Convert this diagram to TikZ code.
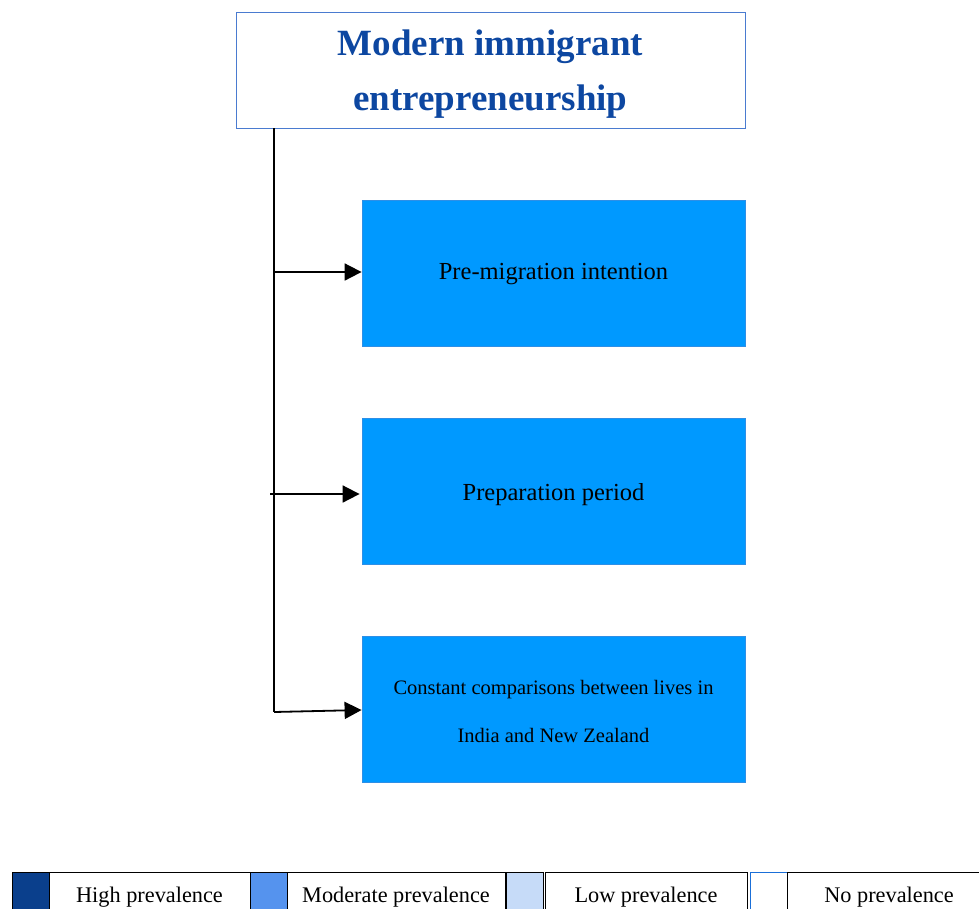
\documentclass[tikz,border=0pt]{standalone}
\usepackage{fontspec}
\setmainfont{Liberation Serif}
\usetikzlibrary{arrows.meta}

\definecolor{headtext}{HTML}{0D47A1}
\definecolor{headline}{HTML}{4A7BD0}
\definecolor{boxfill}{HTML}{0099FF}
\definecolor{boxline}{HTML}{2E8FE6}
\definecolor{highc}{HTML}{0A3F8C}
\definecolor{modc}{HTML}{5593EE}
\definecolor{lowc}{HTML}{C6DBF8}
\definecolor{nonec}{HTML}{1A6FD8}

\tikzset{
  headbox/.style={draw=headline, line width=1pt, fill=white,
    minimum width=509pt, minimum height=116pt, inner sep=0pt},
  headlabel/.style={align=center, text=headtext, inner sep=0pt,
    font=\fontsize{37}{55}\selectfont\bfseries},
  themebox/.style={draw=boxline, line width=0.8pt, fill=boxfill,
    minimum width=383pt, minimum height=146pt, inner sep=0pt},
  themelabel/.style={align=center, inner sep=0pt,
    font=\fontsize{24.5}{30}\selectfont},
  wire/.style={line width=1.8pt, black},
  tip/.style={-{Triangle[length=17pt,width=17pt]}},
  swatch/.style={draw=black, line width=0.8pt, anchor=north west,
    minimum width=37pt, minimum height=47pt, inner sep=0pt},
  keycell/.style={draw=black, line width=0.8pt, fill=white,
    minimum height=47pt, inner sep=0pt},
  keytext/.style={inner sep=0pt, font=\fontsize{22.3}{26}\selectfont},
}

\begin{document}
\begin{tikzpicture}[x=1pt,y=-1pt]
  \clip (0,0) rectangle (979,908);
  \fill[white] (0,0) rectangle (979,908);

  % heading
  \node[headbox] (head) at (490.5,70) {};
  \node[headlabel] (headtxt) at ([yshift=-4.5pt]head.center)
    {Modern immigrant\\entrepreneurship};

  % the three themes
  \node[themebox] (pre)  at (553.5,273) {};
  \node[themelabel] (pretxt) at ([yshift=-1.5pt]pre.center) {Pre-migration intention};
  \node[themebox] (prep) at (553.5,491) {};
  \node[themelabel] (preptxt) at ([yshift=-4pt]prep.center) {Preparation period};
  \node[themebox] (cmp) at (553.5,709) {};
  \node[themelabel, font=\fontsize{20.5}{48}\selectfont] (cmptxt)
    at ([yshift=-2pt]cmp.center)
    {Constant comparisons between lives in\\India and New Zealand};

  % trunk and branches
  \coordinate (top) at (274,128);
  \coordinate (elbow) at (274,712);
  \coordinate (mid) at (270,494);
  \draw[wire] (top) -- (elbow);
  \draw[wire,tip] (top |- 0,272) -- (pre.west |- 0,272);
  \draw[wire,tip] (mid) -- ([xshift=-2pt]prep.west |- mid);
  \draw[wire,tip] (elbow) -- ([yshift=-1pt]cmp.west);

  % legend
  \node[swatch, fill=highc] (sw1) at (12,872) {};
  \node[keycell, minimum width=201pt] (k1) at (149.5,895.5) {};
  \node[keytext] (k1txt) at ([yshift=-2pt]k1.center) {High prevalence};
  \node[swatch, fill=modc] (sw2) at (250,872) {};
  \node[keycell, minimum width=218pt] (k2) at (396,895.5) {};
  \node[keytext] (k2txt) at ([yshift=-2pt]k2.center) {Moderate prevalence};
  \node[swatch, fill=lowc] (sw3) at (505.5,872) {};
  \node[keycell, minimum width=202pt] (k3) at (646,895.5) {};
  \node[keytext] (k3txt) at ([yshift=-2pt]k3.center) {Low prevalence};
  \node[swatch, draw=nonec, fill=white] (sw4) at (749.5,872) {};
  \node[keycell, minimum width=204pt] (k4) at (889,895.5) {};
  \node[keytext] (k4txt) at ([yshift=-2pt]k4.center) {No prevalence};
\end{tikzpicture}
\end{document}
